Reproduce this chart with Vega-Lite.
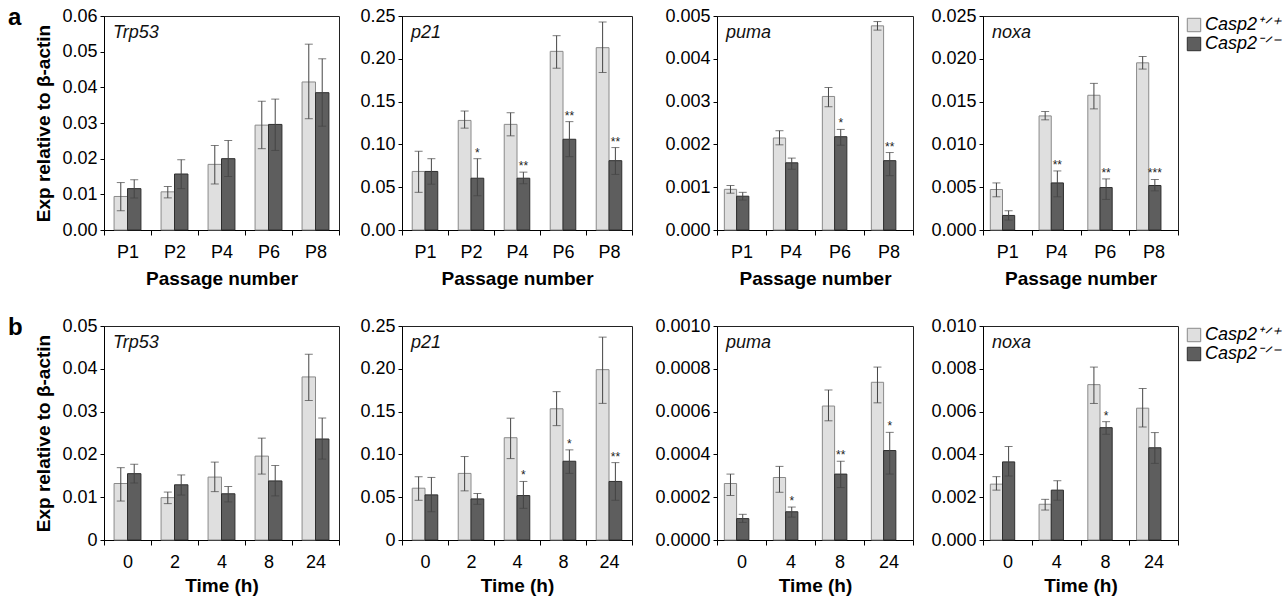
{
  "$schema": "https://vega.github.io/schema/vega-lite/v6.json",
  "padding": {"left": 8, "top": 5, "right": 0, "bottom": 0},
  "background": "white",
  "datasets": {
    "d": [
      {"row":"a","gene":"Trp53","cat":"P1","geno":"WT","mean":0.0094,"lo":0.0054,"hi":0.0133,"sig":""},
      {"row":"a","gene":"Trp53","cat":"P1","geno":"KO","mean":0.0116,"lo":0.0090,"hi":0.0141,"sig":""},
      {"row":"a","gene":"Trp53","cat":"P2","geno":"WT","mean":0.0107,"lo":0.0090,"hi":0.0122,"sig":""},
      {"row":"a","gene":"Trp53","cat":"P2","geno":"KO","mean":0.0157,"lo":0.0116,"hi":0.0197,"sig":""},
      {"row":"a","gene":"Trp53","cat":"P4","geno":"WT","mean":0.0184,"lo":0.0129,"hi":0.0237,"sig":""},
      {"row":"a","gene":"Trp53","cat":"P4","geno":"KO","mean":0.0200,"lo":0.0150,"hi":0.0251,"sig":""},
      {"row":"a","gene":"Trp53","cat":"P6","geno":"WT","mean":0.0294,"lo":0.0228,"hi":0.0361,"sig":""},
      {"row":"a","gene":"Trp53","cat":"P6","geno":"KO","mean":0.0296,"lo":0.0223,"hi":0.0367,"sig":""},
      {"row":"a","gene":"Trp53","cat":"P8","geno":"WT","mean":0.0415,"lo":0.0312,"hi":0.0521,"sig":""},
      {"row":"a","gene":"Trp53","cat":"P8","geno":"KO","mean":0.0385,"lo":0.0291,"hi":0.0480,"sig":""},

      {"row":"a","gene":"p21","cat":"P1","geno":"WT","mean":0.0684,"lo":0.044,"hi":0.092,"sig":""},
      {"row":"a","gene":"p21","cat":"P1","geno":"KO","mean":0.0684,"lo":0.0535,"hi":0.0833,"sig":""},
      {"row":"a","gene":"p21","cat":"P2","geno":"WT","mean":0.128,"lo":0.119,"hi":0.139,"sig":""},
      {"row":"a","gene":"p21","cat":"P2","geno":"KO","mean":0.0605,"lo":0.040,"hi":0.0833,"sig":"*"},
      {"row":"a","gene":"p21","cat":"P4","geno":"WT","mean":0.1234,"lo":0.110,"hi":0.137,"sig":""},
      {"row":"a","gene":"p21","cat":"P4","geno":"KO","mean":0.0605,"lo":0.054,"hi":0.0676,"sig":"**"},
      {"row":"a","gene":"p21","cat":"P6","geno":"WT","mean":0.2087,"lo":0.189,"hi":0.227,"sig":""},
      {"row":"a","gene":"p21","cat":"P6","geno":"KO","mean":0.106,"lo":0.0857,"hi":0.1266,"sig":"**"},
      {"row":"a","gene":"p21","cat":"P8","geno":"WT","mean":0.213,"lo":0.184,"hi":0.243,"sig":""},
      {"row":"a","gene":"p21","cat":"P8","geno":"KO","mean":0.081,"lo":0.0649,"hi":0.0963,"sig":"**"},

      {"row":"a","gene":"puma","cat":"P1","geno":"WT","mean":0.00095,"lo":0.00086,"hi":0.00104,"sig":""},
      {"row":"a","gene":"puma","cat":"P1","geno":"KO","mean":0.00079,"lo":0.00070,"hi":0.00088,"sig":""},
      {"row":"a","gene":"puma","cat":"P4","geno":"WT","mean":0.00215,"lo":0.00199,"hi":0.00232,"sig":""},
      {"row":"a","gene":"puma","cat":"P4","geno":"KO","mean":0.00157,"lo":0.00142,"hi":0.00168,"sig":""},
      {"row":"a","gene":"puma","cat":"P6","geno":"WT","mean":0.00312,"lo":0.00288,"hi":0.00333,"sig":""},
      {"row":"a","gene":"puma","cat":"P6","geno":"KO","mean":0.00218,"lo":0.00198,"hi":0.00235,"sig":"*"},
      {"row":"a","gene":"puma","cat":"P8","geno":"WT","mean":0.00477,"lo":0.00467,"hi":0.00487,"sig":""},
      {"row":"a","gene":"puma","cat":"P8","geno":"KO","mean":0.00162,"lo":0.00127,"hi":0.00181,"sig":"**"},

      {"row":"a","gene":"noxa","cat":"P1","geno":"WT","mean":0.00473,"lo":0.00388,"hi":0.0055,"sig":""},
      {"row":"a","gene":"noxa","cat":"P1","geno":"KO","mean":0.0017,"lo":0.00116,"hi":0.00225,"sig":""},
      {"row":"a","gene":"noxa","cat":"P4","geno":"WT","mean":0.01333,"lo":0.01287,"hi":0.01384,"sig":""},
      {"row":"a","gene":"noxa","cat":"P4","geno":"KO","mean":0.0055,"lo":0.00388,"hi":0.0069,"sig":"**"},
      {"row":"a","gene":"noxa","cat":"P6","geno":"WT","mean":0.01574,"lo":0.01415,"hi":0.01713,"sig":""},
      {"row":"a","gene":"noxa","cat":"P6","geno":"KO","mean":0.00496,"lo":0.00357,"hi":0.00597,"sig":"**"},
      {"row":"a","gene":"noxa","cat":"P8","geno":"WT","mean":0.01953,"lo":0.0188,"hi":0.02027,"sig":""},
      {"row":"a","gene":"noxa","cat":"P8","geno":"KO","mean":0.0052,"lo":0.00457,"hi":0.0059,"sig":"***"},

      {"row":"b","gene":"Trp53","cat":"0","geno":"WT","mean":0.0132,"lo":0.0091,"hi":0.0169,"sig":""},
      {"row":"b","gene":"Trp53","cat":"0","geno":"KO","mean":0.0155,"lo":0.0133,"hi":0.0177,"sig":""},
      {"row":"b","gene":"Trp53","cat":"2","geno":"WT","mean":0.0099,"lo":0.0085,"hi":0.0112,"sig":""},
      {"row":"b","gene":"Trp53","cat":"2","geno":"KO","mean":0.0129,"lo":0.0105,"hi":0.0152,"sig":""},
      {"row":"b","gene":"Trp53","cat":"4","geno":"WT","mean":0.0147,"lo":0.0113,"hi":0.0182,"sig":""},
      {"row":"b","gene":"Trp53","cat":"4","geno":"KO","mean":0.0108,"lo":0.0089,"hi":0.0125,"sig":""},
      {"row":"b","gene":"Trp53","cat":"8","geno":"WT","mean":0.0196,"lo":0.0154,"hi":0.0238,"sig":""},
      {"row":"b","gene":"Trp53","cat":"8","geno":"KO","mean":0.0138,"lo":0.0103,"hi":0.0174,"sig":""},
      {"row":"b","gene":"Trp53","cat":"24","geno":"WT","mean":0.0381,"lo":0.0326,"hi":0.0434,"sig":""},
      {"row":"b","gene":"Trp53","cat":"24","geno":"KO","mean":0.0236,"lo":0.0189,"hi":0.0285,"sig":""},

      {"row":"b","gene":"p21","cat":"0","geno":"WT","mean":0.0605,"lo":0.0464,"hi":0.0739,"sig":""},
      {"row":"b","gene":"p21","cat":"0","geno":"KO","mean":0.0527,"lo":0.033,"hi":0.0731,"sig":""},
      {"row":"b","gene":"p21","cat":"2","geno":"WT","mean":0.0778,"lo":0.0574,"hi":0.0975,"sig":""},
      {"row":"b","gene":"p21","cat":"2","geno":"KO","mean":0.048,"lo":0.0417,"hi":0.0543,"sig":""},
      {"row":"b","gene":"p21","cat":"4","geno":"WT","mean":0.1195,"lo":0.0951,"hi":0.1423,"sig":""},
      {"row":"b","gene":"p21","cat":"4","geno":"KO","mean":0.0519,"lo":0.037,"hi":0.0684,"sig":"*"},
      {"row":"b","gene":"p21","cat":"8","geno":"WT","mean":0.1533,"lo":0.1336,"hi":0.1733,"sig":""},
      {"row":"b","gene":"p21","cat":"8","geno":"KO","mean":0.092,"lo":0.0778,"hi":0.1053,"sig":"*"},
      {"row":"b","gene":"p21","cat":"24","geno":"WT","mean":0.199,"lo":0.1596,"hi":0.237,"sig":""},
      {"row":"b","gene":"p21","cat":"24","geno":"KO","mean":0.0684,"lo":0.0464,"hi":0.0904,"sig":"**"},

      {"row":"b","gene":"puma","cat":"0","geno":"WT","mean":0.000264,"lo":0.000208,"hi":0.000308,"sig":""},
      {"row":"b","gene":"puma","cat":"0","geno":"KO","mean":0.000100,"lo":0.000082,"hi":0.000120,"sig":""},
      {"row":"b","gene":"puma","cat":"4","geno":"WT","mean":0.000292,"lo":0.000223,"hi":0.000344,"sig":""},
      {"row":"b","gene":"puma","cat":"4","geno":"KO","mean":0.000132,"lo":0.000107,"hi":0.000154,"sig":"*"},
      {"row":"b","gene":"puma","cat":"8","geno":"WT","mean":0.000626,"lo":0.000557,"hi":0.000701,"sig":""},
      {"row":"b","gene":"puma","cat":"8","geno":"KO","mean":0.000308,"lo":0.000245,"hi":0.000368,"sig":"**"},
      {"row":"b","gene":"puma","cat":"24","geno":"WT","mean":0.000737,"lo":0.000641,"hi":0.000808,"sig":""},
      {"row":"b","gene":"puma","cat":"24","geno":"KO","mean":0.000418,"lo":0.000308,"hi":0.000503,"sig":"*"},

      {"row":"b","gene":"noxa","cat":"0","geno":"WT","mean":0.00261,"lo":0.00233,"hi":0.00296,"sig":""},
      {"row":"b","gene":"noxa","cat":"0","geno":"KO","mean":0.00365,"lo":0.00299,"hi":0.00437,"sig":""},
      {"row":"b","gene":"noxa","cat":"4","geno":"WT","mean":0.00167,"lo":0.0014,"hi":0.0019,"sig":""},
      {"row":"b","gene":"noxa","cat":"4","geno":"KO","mean":0.00233,"lo":0.00186,"hi":0.00277,"sig":""},
      {"row":"b","gene":"noxa","cat":"8","geno":"WT","mean":0.00726,"lo":0.00638,"hi":0.00808,"sig":""},
      {"row":"b","gene":"noxa","cat":"8","geno":"KO","mean":0.00525,"lo":0.00494,"hi":0.00553,"sig":"*"},
      {"row":"b","gene":"noxa","cat":"24","geno":"WT","mean":0.00616,"lo":0.00528,"hi":0.00708,"sig":""},
      {"row":"b","gene":"noxa","cat":"24","geno":"KO","mean":0.00431,"lo":0.00358,"hi":0.00502,"sig":""}
    ]
  },
  "config": {
    "font": "Liberation Sans",
    "view": {"stroke": "#222", "strokeWidth": 1},
    "axis": {"grid": false, "domainColor": "#000", "tickColor": "#000", "labelColor": "#000", "titleColor": "#000", "labelFontSize": 18, "titleFontSize": 19, "titleFontWeight": "bold", "labelFont": "Liberation Sans", "titleFont": "Liberation Sans", "labelOverlap": false},
    "axisX": {"labelAngle": 0, "tickSize": 5, "labelPadding": 8, "titlePadding": 8, "tickBand": "extent"},
    "axisY": {"tickSize": 4, "labelPadding": 3, "titlePadding": 8},
    "legend": {"padding": 0}
  },
  "spacing": 26,
  "resolve": {"scale": {"x": "independent", "y": "independent", "xOffset": "independent", "fill": "independent", "stroke": "independent"}, "legend": {"fill": "independent", "stroke": "independent"}},
  "vconcat": [
    {
      "title": {"text": "a", "anchor": "start", "frame": "group", "orient": "top", "offset": -23, "dx": -96, "fontSize": 24, "fontWeight": "bold", "color": "#000"},
      "bounds": "flush",
      "spacing": 63,
      "resolve": {"scale": {"x": "independent", "y": "independent", "xOffset": "independent", "fill": "independent", "stroke": "independent"}, "legend": {"fill": "independent", "stroke": "independent"}},
      "hconcat": [
        {
          "width": 235, "height": 214,
          "title": {"text": "Trp53", "anchor": "start", "frame": "group", "orient": "top", "offset": -35, "dx": 9, "fontSize": 18, "fontStyle": "italic", "fontWeight": "normal", "color": "#111"},
          "data": {"name": "d"},
          "transform": [{"filter": "datum.row == 'a' && datum.gene == 'Trp53'"}],
          "encoding": {
            "x": {"field": "cat", "type": "nominal", "scale": {"domain": ["P1","P2","P4","P6","P8"], "paddingInner": 0, "paddingOuter": 0}, "axis": {"title": "Passage number"}},
            "xOffset": {"field": "geno", "type": "nominal", "scale": {"domain": ["WT","KO"], "paddingInner": 0, "paddingOuter": 0.75}}
          },
          "layer": [
            {"mark": {"type": "bar", "strokeWidth": 1},
             "encoding": {
               "y": {"field": "mean", "type": "quantitative", "scale": {"domain": [0, 0.06], "nice": false}, "axis": {"values": [0,0.01,0.02,0.03,0.04,0.05,0.06], "tickCount": 7, "format": ".2f", "title": "Exp relative to β-actin"}},
               "fill": {"field": "geno", "type": "nominal", "scale": {"domain": ["WT","KO"], "range": ["#dfdfdf","#5e5e5e"]}, "legend": null},
               "stroke": {"field": "geno", "type": "nominal", "scale": {"domain": ["WT","KO"], "range": ["#8a8a8a","#2e2e2e"]}, "legend": null}}},
            {"mark": {"type": "rule", "strokeWidth": 1, "color": "#444"},
             "encoding": {"y": {"field": "lo", "type": "quantitative", "scale": {"domain": [0, 0.06], "nice": false}}, "y2": {"field": "hi"}}},
            {"mark": {"type": "tick", "thickness": 1, "size": 8, "color": "#444"},
             "encoding": {"y": {"field": "lo", "type": "quantitative", "scale": {"domain": [0, 0.06], "nice": false}}}},
            {"mark": {"type": "tick", "thickness": 1, "size": 8, "color": "#444"},
             "encoding": {"y": {"field": "hi", "type": "quantitative", "scale": {"domain": [0, 0.06], "nice": false}}}},
            {"mark": {"type": "text", "dy": -2, "fontSize": 12, "color": "#222", "baseline": "alphabetic"},
             "encoding": {"y": {"field": "hi", "type": "quantitative", "scale": {"domain": [0, 0.06], "nice": false}}, "text": {"field": "sig"}}}
          ]
        },
        {
          "bounds": "flush",
          "spacing": 85,
          "resolve": {"scale": {"x": "independent", "y": "independent", "xOffset": "independent", "fill": "independent", "stroke": "independent"}, "legend": {"fill": "independent", "stroke": "independent"}},
          "hconcat": [
            {
              "width": 230, "height": 214,
              "title": {"text": "p21", "anchor": "start", "frame": "group", "orient": "top", "offset": -35, "dx": 9, "fontSize": 18, "fontStyle": "italic", "fontWeight": "normal", "color": "#111"},
              "data": {"name": "d"},
              "transform": [{"filter": "datum.row == 'a' && datum.gene == 'p21'"}],
              "encoding": {
                "x": {"field": "cat", "type": "nominal", "scale": {"domain": ["P1","P2","P4","P6","P8"], "paddingInner": 0, "paddingOuter": 0}, "axis": {"title": "Passage number"}},
                "xOffset": {"field": "geno", "type": "nominal", "scale": {"domain": ["WT","KO"], "paddingInner": 0, "paddingOuter": 0.8}}
              },
              "layer": [
                {"mark": {"type": "bar", "strokeWidth": 1},
                 "encoding": {
                   "y": {"field": "mean", "type": "quantitative", "scale": {"domain": [0, 0.25], "nice": false}, "axis": {"values": [0,0.05,0.1,0.15,0.2,0.25], "tickCount": 6, "format": ".2f", "title": null}},
                   "fill": {"field": "geno", "type": "nominal", "scale": {"domain": ["WT","KO"], "range": ["#dfdfdf","#5e5e5e"]}, "legend": null},
                   "stroke": {"field": "geno", "type": "nominal", "scale": {"domain": ["WT","KO"], "range": ["#8a8a8a","#2e2e2e"]}, "legend": null}}},
                {"mark": {"type": "rule", "strokeWidth": 1, "color": "#444"},
                 "encoding": {"y": {"field": "lo", "type": "quantitative", "scale": {"domain": [0, 0.25], "nice": false}}, "y2": {"field": "hi"}}},
                {"mark": {"type": "tick", "thickness": 1, "size": 8, "color": "#444"},
                 "encoding": {"y": {"field": "lo", "type": "quantitative", "scale": {"domain": [0, 0.25], "nice": false}}}},
                {"mark": {"type": "tick", "thickness": 1, "size": 8, "color": "#444"},
                 "encoding": {"y": {"field": "hi", "type": "quantitative", "scale": {"domain": [0, 0.25], "nice": false}}}},
                {"mark": {"type": "text", "dy": -2, "fontSize": 12, "color": "#222", "baseline": "alphabetic"},
                 "encoding": {"y": {"field": "hi", "type": "quantitative", "scale": {"domain": [0, 0.25], "nice": false}}, "text": {"field": "sig"}}}
              ]
            },
            {
              "bounds": "flush",
              "spacing": 70,
              "resolve": {"scale": {"x": "independent", "y": "independent", "xOffset": "independent", "fill": "independent", "stroke": "independent"}, "legend": {"fill": "independent", "stroke": "independent"}},
              "hconcat": [
                {
                  "width": 196, "height": 214,
                  "title": {"text": "puma", "anchor": "start", "frame": "group", "orient": "top", "offset": -35, "dx": 9, "fontSize": 18, "fontStyle": "italic", "fontWeight": "normal", "color": "#111"},
                  "data": {"name": "d"},
                  "transform": [{"filter": "datum.row == 'a' && datum.gene == 'puma'"}],
                  "encoding": {
                    "x": {"field": "cat", "type": "nominal", "scale": {"domain": ["P1","P4","P6","P8"], "paddingInner": 0, "paddingOuter": 0}, "axis": {"title": "Passage number"}},
                    "xOffset": {"field": "geno", "type": "nominal", "scale": {"domain": ["WT","KO"], "paddingInner": 0, "paddingOuter": 1.04, "align": 0.3}}
                  },
                  "layer": [
                    {"mark": {"type": "bar", "strokeWidth": 1},
                     "encoding": {
                       "y": {"field": "mean", "type": "quantitative", "scale": {"domain": [0, 0.005], "nice": false}, "axis": {"values": [0,0.001,0.002,0.003,0.004,0.005], "tickCount": 6, "format": ".3f", "title": null}},
                       "fill": {"field": "geno", "type": "nominal", "scale": {"domain": ["WT","KO"], "range": ["#dfdfdf","#5e5e5e"]}, "legend": null},
                       "stroke": {"field": "geno", "type": "nominal", "scale": {"domain": ["WT","KO"], "range": ["#8a8a8a","#2e2e2e"]}, "legend": null}}},
                    {"mark": {"type": "rule", "strokeWidth": 1, "color": "#444"},
                     "encoding": {"y": {"field": "lo", "type": "quantitative", "scale": {"domain": [0, 0.005], "nice": false}}, "y2": {"field": "hi"}}},
                    {"mark": {"type": "tick", "thickness": 1, "size": 8, "color": "#444"},
                     "encoding": {"y": {"field": "lo", "type": "quantitative", "scale": {"domain": [0, 0.005], "nice": false}}}},
                    {"mark": {"type": "tick", "thickness": 1, "size": 8, "color": "#444"},
                     "encoding": {"y": {"field": "hi", "type": "quantitative", "scale": {"domain": [0, 0.005], "nice": false}}}},
                    {"mark": {"type": "text", "dy": -2, "fontSize": 12, "color": "#222", "baseline": "alphabetic"},
                     "encoding": {"y": {"field": "hi", "type": "quantitative", "scale": {"domain": [0, 0.005], "nice": false}}, "text": {"field": "sig"}}}
                  ]
                },
                {
                  "width": 195, "height": 214,
                  "title": {"text": "noxa", "anchor": "start", "frame": "group", "orient": "top", "offset": -35, "dx": 9, "fontSize": 18, "fontStyle": "italic", "fontWeight": "normal", "color": "#111"},
                  "data": {"name": "d"},
                  "transform": [{"filter": "datum.row == 'a' && datum.gene == 'noxa'"}],
                  "encoding": {
                    "x": {"field": "cat", "type": "nominal", "scale": {"domain": ["P1","P4","P6","P8"], "paddingInner": 0, "paddingOuter": 0}, "axis": {"title": "Passage number"}},
                    "xOffset": {"field": "geno", "type": "nominal", "scale": {"domain": ["WT","KO"], "paddingInner": 0, "paddingOuter": 1.04, "align": 0.3}}
                  },
                  "layer": [
                    {"mark": {"type": "bar", "strokeWidth": 1},
                     "encoding": {
                       "y": {"field": "mean", "type": "quantitative", "scale": {"domain": [0, 0.025], "nice": false}, "axis": {"values": [0,0.005,0.01,0.015,0.02,0.025], "tickCount": 6, "format": ".3f", "title": null}},
                       "fill": {"field": "geno", "type": "nominal", "scale": {"domain": ["WT","KO"], "range": ["#dfdfdf","#5e5e5e"]},
                                "legend": {"orient": "right", "offset": 7, "title": null, "symbolType": "square", "symbolSize": 180, "symbolStrokeColor": "#555", "symbolStrokeWidth": 1, "labelFontSize": 18, "labelFontStyle": "italic", "labelColor": "#000", "labelOffset": 2, "rowPadding": 1, "labelExpr": "datum.label == 'WT' ? 'Casp2⁺ᐟ⁺' : 'Casp2⁻ᐟ⁻'"}},
                       "stroke": {"field": "geno", "type": "nominal", "scale": {"domain": ["WT","KO"], "range": ["#8a8a8a","#2e2e2e"]}, "legend": null}}},
                    {"mark": {"type": "rule", "strokeWidth": 1, "color": "#444"},
                     "encoding": {"y": {"field": "lo", "type": "quantitative", "scale": {"domain": [0, 0.025], "nice": false}}, "y2": {"field": "hi"}}},
                    {"mark": {"type": "tick", "thickness": 1, "size": 8, "color": "#444"},
                     "encoding": {"y": {"field": "lo", "type": "quantitative", "scale": {"domain": [0, 0.025], "nice": false}}}},
                    {"mark": {"type": "tick", "thickness": 1, "size": 8, "color": "#444"},
                     "encoding": {"y": {"field": "hi", "type": "quantitative", "scale": {"domain": [0, 0.025], "nice": false}}}},
                    {"mark": {"type": "text", "dy": -2, "fontSize": 12, "color": "#222", "baseline": "alphabetic"},
                     "encoding": {"y": {"field": "hi", "type": "quantitative", "scale": {"domain": [0, 0.025], "nice": false}}, "text": {"field": "sig"}}}
                  ]
                }
              ]
            }
          ]
        }
      ]
    },
    {
      "title": {"text": "b", "anchor": "start", "frame": "group", "orient": "top", "offset": -23, "dx": -96, "fontSize": 24, "fontWeight": "bold", "color": "#000"},
      "bounds": "flush",
      "spacing": 63,
      "resolve": {"scale": {"x": "independent", "y": "independent", "xOffset": "independent", "fill": "independent", "stroke": "independent"}, "legend": {"fill": "independent", "stroke": "independent"}},
      "hconcat": [
        {
          "width": 235, "height": 214,
          "title": {"text": "Trp53", "anchor": "start", "frame": "group", "orient": "top", "offset": -35, "dx": 9, "fontSize": 18, "fontStyle": "italic", "fontWeight": "normal", "color": "#111"},
          "data": {"name": "d"},
          "transform": [{"filter": "datum.row == 'b' && datum.gene == 'Trp53'"}],
          "encoding": {
            "x": {"field": "cat", "type": "nominal", "scale": {"domain": ["0","2","4","8","24"], "paddingInner": 0, "paddingOuter": 0}, "axis": {"title": "Time (h)", "titlePadding": 5}},
            "xOffset": {"field": "geno", "type": "nominal", "scale": {"domain": ["WT","KO"], "paddingInner": 0, "paddingOuter": 0.75}}
          },
          "layer": [
            {"mark": {"type": "bar", "strokeWidth": 1},
             "encoding": {
               "y": {"field": "mean", "type": "quantitative", "scale": {"domain": [0, 0.05], "nice": false}, "axis": {"values": [0,0.01,0.02,0.03,0.04,0.05], "tickCount": 6, "labelExpr": "datum.value == 0 ? '0' : format(datum.value, '.2f')", "title": "Exp relative to β-actin"}},
               "fill": {"field": "geno", "type": "nominal", "scale": {"domain": ["WT","KO"], "range": ["#dfdfdf","#5e5e5e"]}, "legend": null},
               "stroke": {"field": "geno", "type": "nominal", "scale": {"domain": ["WT","KO"], "range": ["#8a8a8a","#2e2e2e"]}, "legend": null}}},
            {"mark": {"type": "rule", "strokeWidth": 1, "color": "#444"},
             "encoding": {"y": {"field": "lo", "type": "quantitative", "scale": {"domain": [0, 0.05], "nice": false}}, "y2": {"field": "hi"}}},
            {"mark": {"type": "tick", "thickness": 1, "size": 8, "color": "#444"},
             "encoding": {"y": {"field": "lo", "type": "quantitative", "scale": {"domain": [0, 0.05], "nice": false}}}},
            {"mark": {"type": "tick", "thickness": 1, "size": 8, "color": "#444"},
             "encoding": {"y": {"field": "hi", "type": "quantitative", "scale": {"domain": [0, 0.05], "nice": false}}}},
            {"mark": {"type": "text", "dy": -2, "fontSize": 12, "color": "#222", "baseline": "alphabetic"},
             "encoding": {"y": {"field": "hi", "type": "quantitative", "scale": {"domain": [0, 0.05], "nice": false}}, "text": {"field": "sig"}}}
          ]
        },
        {
          "bounds": "flush",
          "spacing": 85,
          "resolve": {"scale": {"x": "independent", "y": "independent", "xOffset": "independent", "fill": "independent", "stroke": "independent"}, "legend": {"fill": "independent", "stroke": "independent"}},
          "hconcat": [
            {
              "width": 230, "height": 214,
              "title": {"text": "p21", "anchor": "start", "frame": "group", "orient": "top", "offset": -35, "dx": 9, "fontSize": 18, "fontStyle": "italic", "fontWeight": "normal", "color": "#111"},
              "data": {"name": "d"},
              "transform": [{"filter": "datum.row == 'b' && datum.gene == 'p21'"}],
              "encoding": {
                "x": {"field": "cat", "type": "nominal", "scale": {"domain": ["0","2","4","8","24"], "paddingInner": 0, "paddingOuter": 0}, "axis": {"title": "Time (h)", "titlePadding": 5}},
                "xOffset": {"field": "geno", "type": "nominal", "scale": {"domain": ["WT","KO"], "paddingInner": 0, "paddingOuter": 0.8}}
              },
              "layer": [
                {"mark": {"type": "bar", "strokeWidth": 1},
                 "encoding": {
                   "y": {"field": "mean", "type": "quantitative", "scale": {"domain": [0, 0.25], "nice": false}, "axis": {"values": [0,0.05,0.1,0.15,0.2,0.25], "tickCount": 6, "labelExpr": "datum.value == 0 ? '0' : format(datum.value, '.2f')", "title": null}},
                   "fill": {"field": "geno", "type": "nominal", "scale": {"domain": ["WT","KO"], "range": ["#dfdfdf","#5e5e5e"]}, "legend": null},
                   "stroke": {"field": "geno", "type": "nominal", "scale": {"domain": ["WT","KO"], "range": ["#8a8a8a","#2e2e2e"]}, "legend": null}}},
                {"mark": {"type": "rule", "strokeWidth": 1, "color": "#444"},
                 "encoding": {"y": {"field": "lo", "type": "quantitative", "scale": {"domain": [0, 0.25], "nice": false}}, "y2": {"field": "hi"}}},
                {"mark": {"type": "tick", "thickness": 1, "size": 8, "color": "#444"},
                 "encoding": {"y": {"field": "lo", "type": "quantitative", "scale": {"domain": [0, 0.25], "nice": false}}}},
                {"mark": {"type": "tick", "thickness": 1, "size": 8, "color": "#444"},
                 "encoding": {"y": {"field": "hi", "type": "quantitative", "scale": {"domain": [0, 0.25], "nice": false}}}},
                {"mark": {"type": "text", "dy": -2, "fontSize": 12, "color": "#222", "baseline": "alphabetic"},
                 "encoding": {"y": {"field": "hi", "type": "quantitative", "scale": {"domain": [0, 0.25], "nice": false}}, "text": {"field": "sig"}}}
              ]
            },
            {
              "bounds": "flush",
              "spacing": 70,
              "resolve": {"scale": {"x": "independent", "y": "independent", "xOffset": "independent", "fill": "independent", "stroke": "independent"}, "legend": {"fill": "independent", "stroke": "independent"}},
              "hconcat": [
                {
                  "width": 196, "height": 214,
                  "title": {"text": "puma", "anchor": "start", "frame": "group", "orient": "top", "offset": -35, "dx": 9, "fontSize": 18, "fontStyle": "italic", "fontWeight": "normal", "color": "#111"},
                  "data": {"name": "d"},
                  "transform": [{"filter": "datum.row == 'b' && datum.gene == 'puma'"}],
                  "encoding": {
                    "x": {"field": "cat", "type": "nominal", "scale": {"domain": ["0","4","8","24"], "paddingInner": 0, "paddingOuter": 0}, "axis": {"title": "Time (h)", "titlePadding": 5}},
                    "xOffset": {"field": "geno", "type": "nominal", "scale": {"domain": ["WT","KO"], "paddingInner": 0, "paddingOuter": 1.04, "align": 0.3}}
                  },
                  "layer": [
                    {"mark": {"type": "bar", "strokeWidth": 1},
                     "encoding": {
                       "y": {"field": "mean", "type": "quantitative", "scale": {"domain": [0, 0.001], "nice": false}, "axis": {"values": [0,0.0002,0.0004,0.0006,0.0008,0.001], "tickCount": 6, "format": ".4f", "title": null}},
                       "fill": {"field": "geno", "type": "nominal", "scale": {"domain": ["WT","KO"], "range": ["#dfdfdf","#5e5e5e"]}, "legend": null},
                       "stroke": {"field": "geno", "type": "nominal", "scale": {"domain": ["WT","KO"], "range": ["#8a8a8a","#2e2e2e"]}, "legend": null}}},
                    {"mark": {"type": "rule", "strokeWidth": 1, "color": "#444"},
                     "encoding": {"y": {"field": "lo", "type": "quantitative", "scale": {"domain": [0, 0.001], "nice": false}}, "y2": {"field": "hi"}}},
                    {"mark": {"type": "tick", "thickness": 1, "size": 8, "color": "#444"},
                     "encoding": {"y": {"field": "lo", "type": "quantitative", "scale": {"domain": [0, 0.001], "nice": false}}}},
                    {"mark": {"type": "tick", "thickness": 1, "size": 8, "color": "#444"},
                     "encoding": {"y": {"field": "hi", "type": "quantitative", "scale": {"domain": [0, 0.001], "nice": false}}}},
                    {"mark": {"type": "text", "dy": -2, "fontSize": 12, "color": "#222", "baseline": "alphabetic"},
                     "encoding": {"y": {"field": "hi", "type": "quantitative", "scale": {"domain": [0, 0.001], "nice": false}}, "text": {"field": "sig"}}}
                  ]
                },
                {
                  "width": 195, "height": 214,
                  "title": {"text": "noxa", "anchor": "start", "frame": "group", "orient": "top", "offset": -35, "dx": 9, "fontSize": 18, "fontStyle": "italic", "fontWeight": "normal", "color": "#111"},
                  "data": {"name": "d"},
                  "transform": [{"filter": "datum.row == 'b' && datum.gene == 'noxa'"}],
                  "encoding": {
                    "x": {"field": "cat", "type": "nominal", "scale": {"domain": ["0","4","8","24"], "paddingInner": 0, "paddingOuter": 0}, "axis": {"title": "Time (h)", "titlePadding": 5}},
                    "xOffset": {"field": "geno", "type": "nominal", "scale": {"domain": ["WT","KO"], "paddingInner": 0, "paddingOuter": 1.04, "align": 0.3}}
                  },
                  "layer": [
                    {"mark": {"type": "bar", "strokeWidth": 1},
                     "encoding": {
                       "y": {"field": "mean", "type": "quantitative", "scale": {"domain": [0, 0.01], "nice": false}, "axis": {"values": [0,0.002,0.004,0.006,0.008,0.01], "tickCount": 6, "format": ".3f", "title": null}},
                       "fill": {"field": "geno", "type": "nominal", "scale": {"domain": ["WT","KO"], "range": ["#dfdfdf","#5e5e5e"]},
                                "legend": {"orient": "right", "offset": 7, "title": null, "symbolType": "square", "symbolSize": 180, "symbolStrokeColor": "#555", "symbolStrokeWidth": 1, "labelFontSize": 18, "labelFontStyle": "italic", "labelColor": "#000", "labelOffset": 2, "rowPadding": 1, "labelExpr": "datum.label == 'WT' ? 'Casp2⁺ᐟ⁺' : 'Casp2⁻ᐟ⁻'"}},
                       "stroke": {"field": "geno", "type": "nominal", "scale": {"domain": ["WT","KO"], "range": ["#8a8a8a","#2e2e2e"]}, "legend": null}}},
                    {"mark": {"type": "rule", "strokeWidth": 1, "color": "#444"},
                     "encoding": {"y": {"field": "lo", "type": "quantitative", "scale": {"domain": [0, 0.01], "nice": false}}, "y2": {"field": "hi"}}},
                    {"mark": {"type": "tick", "thickness": 1, "size": 8, "color": "#444"},
                     "encoding": {"y": {"field": "lo", "type": "quantitative", "scale": {"domain": [0, 0.01], "nice": false}}}},
                    {"mark": {"type": "tick", "thickness": 1, "size": 8, "color": "#444"},
                     "encoding": {"y": {"field": "hi", "type": "quantitative", "scale": {"domain": [0, 0.01], "nice": false}}}},
                    {"mark": {"type": "text", "dy": -2, "fontSize": 12, "color": "#222", "baseline": "alphabetic"},
                     "encoding": {"y": {"field": "hi", "type": "quantitative", "scale": {"domain": [0, 0.01], "nice": false}}, "text": {"field": "sig"}}}
                  ]
                }
              ]
            }
          ]
        }
      ]
    }
  ]
}
